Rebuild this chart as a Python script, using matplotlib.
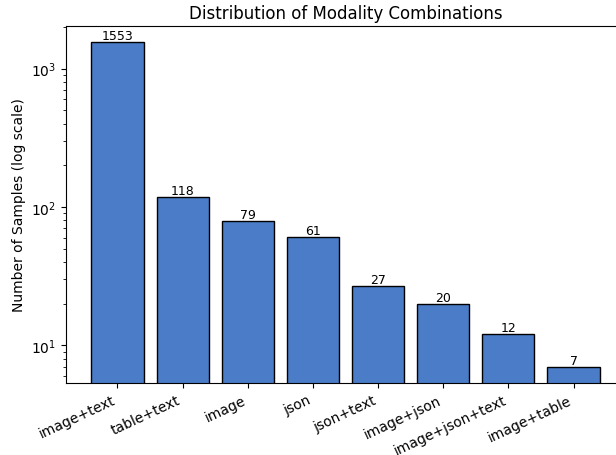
import matplotlib
matplotlib.use("Agg")
import matplotlib.pyplot as plt

combos = ["image+text", "table+text", "image", "json", "json+text",
          "image+json", "image+json+text", "image+table"]
counts = [1553, 118, 79, 61, 27, 20, 12, 7]

fig = plt.figure(figsize=(6.16, 4.56), dpi=100)
# axes runs past the right edge, as in the reference
ax = fig.add_axes([0.1071, 0.1579, 0.9075, 0.7829])

bars = ax.bar(range(len(combos)), counts, color="#4a7cc7", edgecolor="black")
ax.set_yscale("log")
for b, c in zip(bars, counts):
    ax.text(b.get_x() + b.get_width() / 2, c, str(c), ha="center", va="bottom", fontsize=9)

ax.set_xticks(range(len(combos)))
ax.set_xticklabels(combos, rotation=25, ha="right", fontsize=10)
ax.set_ylabel("Number of Samples (log scale)", fontsize=10)
ax.set_title("Distribution of Modality Combinations", fontsize=12)

fig.savefig("out.png", dpi=100)
